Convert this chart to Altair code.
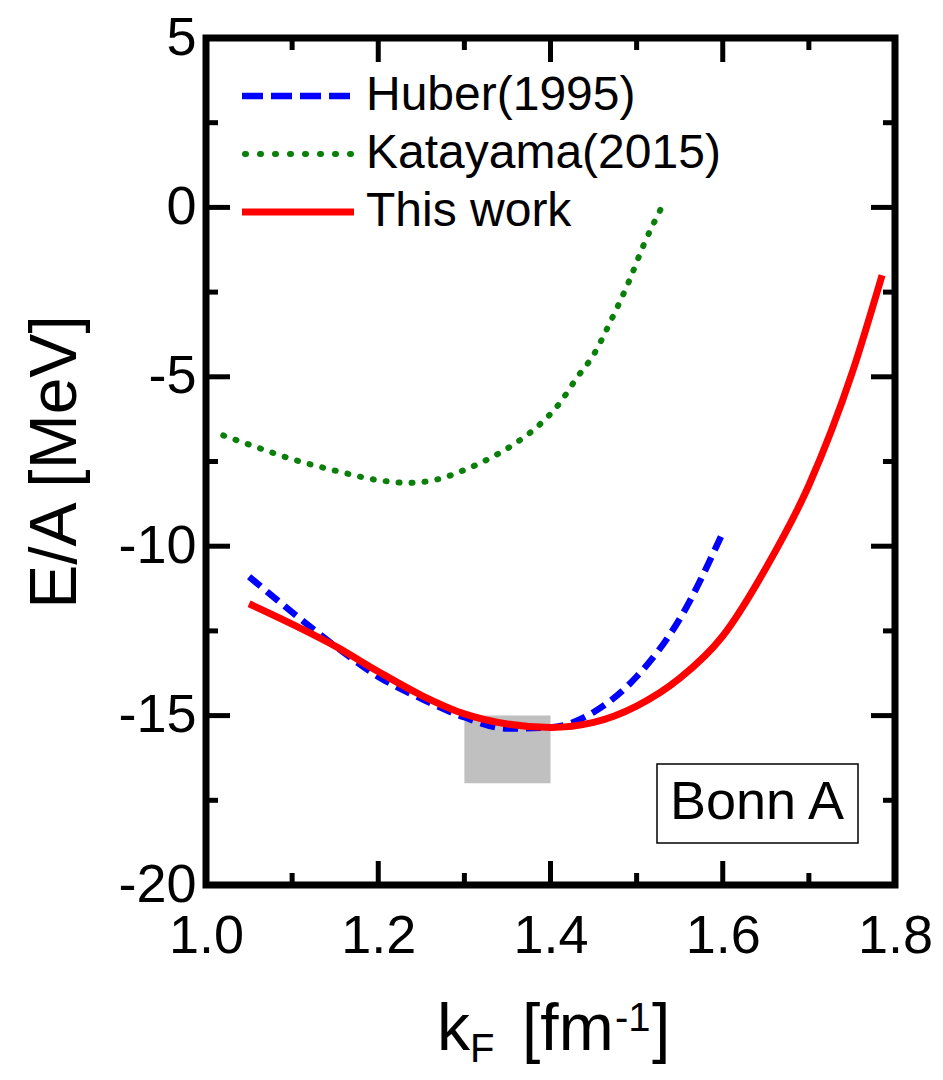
import altair as alt
import pandas as pd

# ---------------- data ----------------
red_k = [1.05, 1.10, 1.15, 1.20, 1.25, 1.30, 1.35, 1.40, 1.45, 1.50, 1.55, 1.60, 1.65, 1.70, 1.75, 1.785]
red_e = [-11.7, -12.3, -12.95, -13.7, -14.4, -14.95, -15.25, -15.35, -15.2, -14.72, -13.9, -12.65, -10.65, -8.2, -4.9, -2.0]

blue_k = [1.05, 1.10, 1.15, 1.20, 1.25, 1.30, 1.35, 1.40, 1.45, 1.50, 1.55, 1.60]
blue_e = [-10.9, -11.95, -12.95, -13.85, -14.5, -15.05, -15.38, -15.35, -14.9, -13.85, -12.15, -9.6]

green_k = [1.02, 1.05, 1.10, 1.15, 1.20, 1.235, 1.27, 1.30, 1.33, 1.36, 1.39, 1.41, 1.43, 1.45, 1.47, 1.49, 1.51, 1.53]
green_e = [-6.73, -7.0, -7.43, -7.77, -8.05, -8.13, -8.02, -7.75, -7.4, -6.95, -6.35, -5.8, -5.05, -4.35, -3.35, -2.25, -1.0, 0.05]

box_k = [1.30, 1.40]
box_e = [-17.0, -15.0]

x_major = [1.0, 1.2, 1.4, 1.6, 1.8]
x_minor = [1.1, 1.3, 1.5, 1.7]
y_major = [5, 0, -5, -10, -15, -20]
y_minor = [2.5, -2.5, -7.5, -12.5, -17.5]

legend_labels = ["Huber(1995)", "Katayama(2015)", "This work"]
panel_label = "Bonn A"

# ---------------- layout ----------------
W, H = 689, 847
FONT = "Liberation Sans"
MAJ, MIN = 24, 12
BLUE, GREEN, RED = "#0000ff", "#0a7f0a", "#ff0000"

xs = alt.Scale(domain=[1.0, 1.8], nice=False, zero=False)
ys = alt.Scale(domain=[-20, 5], nice=False, zero=False)

x_axis = alt.Axis(values=x_major, domain=False, ticks=False, tickSize=0, grid=False,
                  labelFont=FONT, labelFontSize=54, labelColor="black", labelPadding=24,
                  labelFlush=False, labelOverlap=False,
                  labelExpr="format(datum.value, '.1f')", title=None)
y_axis = alt.Axis(values=y_major, domain=False, ticks=False, tickSize=0, grid=False,
                  labelFont=FONT, labelFontSize=54, labelColor="black", labelPadding=10,
                  labelFlush=False, labelOverlap=False,
                  labelExpr="'' + datum.value", title=None)

df_red = pd.DataFrame({"k": red_k, "e": red_e})
df_blue = pd.DataFrame({"k": blue_k, "e": blue_e})
df_green = pd.DataFrame({"k": green_k, "e": green_e})
df_box = pd.DataFrame({"k": [box_k[0]], "k2": [box_k[1]], "e": [box_e[0]], "e2": [box_e[1]]})

box = alt.Chart(df_box).mark_rect(color="#c0c0c0").encode(
    x=alt.X("k:Q", scale=xs, axis=x_axis), x2="k2:Q",
    y=alt.Y("e:Q", scale=ys, axis=y_axis), y2="e2:Q")

green = alt.Chart(df_green).mark_line(color=GREEN, strokeWidth=6, strokeDash=[1, 12],
                                      strokeCap="round", interpolate="monotone").encode(
    x=alt.X("k:Q", scale=xs), y=alt.Y("e:Q", scale=ys))
blue = alt.Chart(df_blue).mark_line(color=BLUE, strokeWidth=6.5, strokeDash=[15, 8],
                                    interpolate="monotone").encode(
    x=alt.X("k:Q", scale=xs), y=alt.Y("e:Q", scale=ys))
red = alt.Chart(df_red).mark_line(color=RED, strokeWidth=7,
                                  interpolate="monotone").encode(
    x=alt.X("k:Q", scale=xs), y=alt.Y("e:Q", scale=ys))

# inward ticks on all four sides
def xticks(vals, length):
    d = pd.DataFrame({"k": vals})
    bottom = alt.Chart(d).mark_rule(color="black", strokeWidth=5).encode(
        x=alt.X("k:Q", scale=xs), y=alt.value(H), y2=alt.value(H - length))
    top = alt.Chart(d).mark_rule(color="black", strokeWidth=5).encode(
        x=alt.X("k:Q", scale=xs), y=alt.value(0), y2=alt.value(length))
    return [bottom, top]

def yticks(vals, length):
    d = pd.DataFrame({"e": vals})
    left = alt.Chart(d).mark_rule(color="black", strokeWidth=5).encode(
        y=alt.Y("e:Q", scale=ys), x=alt.value(0), x2=alt.value(length))
    right = alt.Chart(d).mark_rule(color="black", strokeWidth=5).encode(
        y=alt.Y("e:Q", scale=ys), x=alt.value(W), x2=alt.value(W - length))
    return [left, right]

ticks = xticks(x_major, MAJ) + xticks(x_minor, MIN) + yticks(y_major, MAJ) + yticks(y_minor, MIN)

one = pd.DataFrame({"a": [0]})

# frame
frame = alt.Chart(one).mark_rect(fill=None, stroke="black", strokeWidth=7).encode(
    x=alt.value(0), x2=alt.value(W), y=alt.value(0), y2=alt.value(H))

def txt(s, x, y, size, align="left", baseline="alphabetic", angle=0):
    kw = dict(font=FONT, fontSize=size, color="black", align=align, baseline=baseline)
    if angle:
        kw["angle"] = angle
    return alt.Chart(one).mark_text(**kw).encode(
        x=alt.value(x), y=alt.value(y), text=alt.value(s))

# legend
leg_y = [58, 116, 174]
leg_x0, leg_x1 = 36, 148
leg = [
    alt.Chart(one).mark_rule(color=BLUE, strokeWidth=6.5, strokeDash=[21, 8]).encode(
        x=alt.value(leg_x0), x2=alt.value(leg_x1), y=alt.value(leg_y[0])),
    alt.Chart(one).mark_rule(color=GREEN, strokeWidth=6, strokeDash=[1, 14],
                             strokeCap="round").encode(
        x=alt.value(leg_x0 + 3), x2=alt.value(leg_x1), y=alt.value(leg_y[1])),
    alt.Chart(one).mark_rule(color=RED, strokeWidth=7).encode(
        x=alt.value(leg_x0), x2=alt.value(leg_x1), y=alt.value(leg_y[2])),
]
for lab, yy in zip(legend_labels, leg_y):
    leg.append(txt(lab, 160, yy, 48, baseline="middle"))

# panel label box
panel = [
    alt.Chart(one).mark_rect(fill="white", stroke="black", strokeWidth=1.5).encode(
        x=alt.value(451), x2=alt.value(652), y=alt.value(726), y2=alt.value(805)),
    txt(panel_label, 551, 765, 54, align="center", baseline="middle"),
]

# axis titles
titles = [
    txt("E/A [MeV]", -150, 424, 66, align="center", baseline="middle", angle=270),
    txt("k", 231, 1012, 66),
    txt("F", 264, 1024, 40),
    txt("[fm", 316, 1012, 66),
    txt("-1", 409, 993, 40),
    txt("]", 446, 1012, 66),
]

chart = alt.layer(box, green, blue, red, *ticks, frame, *leg, *panel, *titles).properties(
    width=W, height=H,
    padding={"left": 198, "top": 30, "right": 40, "bottom": 187},
    autosize=alt.AutoSizeParams(type="none"),
    background="white",
).configure_view(stroke=None)

chart.save("out.html", embed_options={"renderer": "svg", "actions": False})
